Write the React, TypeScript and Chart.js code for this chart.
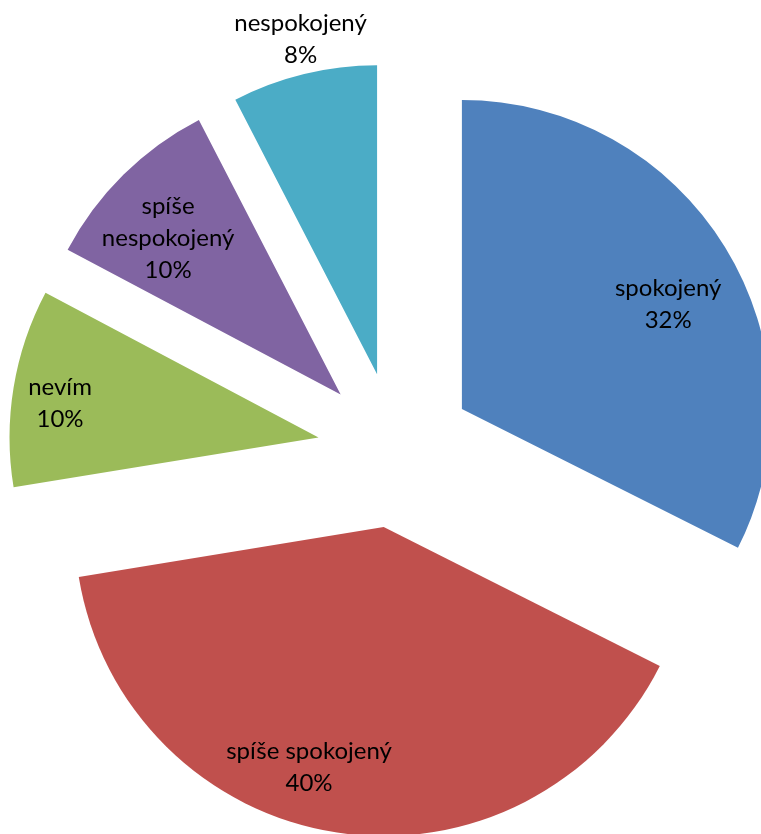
import React, { useEffect, useRef } from "react";
import { Chart, registerables } from "chart.js";

Chart.register(...registerables);

// ---- data ----
const CATEGORIES = ["spokojený", "spíše spokojený", "nevím", "spíše nespokojený", "nespokojený"];
const LABEL_LINES = [["spokojený"], ["spíše spokojený"], ["nevím"], ["spíše", "nespokojený"], ["nespokojený"]];
const COUNTS = [47, 58, 15, 14, 11];
const PERCENT_LABELS = ["32%", "40%", "10%", "10%", "8%"];
const COLORS = ["#4F81BD", "#C0504D", "#9BBB59", "#8064A2", "#4BACC6"];

// ---- label placement (fraction of radius, angular nudge in degrees) ----
const LABEL_RADIUS_FRACTION = [0.749, 0.813, 0.844, 0.754, 1.113];
const LABEL_ANGLE_NUDGE = [4.7, 8.6, -1.7, -3.1, 0.8];

const EXPLODE = 78;
const RADIUS = 309;
const FONT = "24px Lato";
const LINE_HEIGHT = 32;

const explodePlugin = {
  id: "explodeSlices",
  beforeDatasetDraw(chart: any, args: any) {
    const ctx = chart.ctx;
    args.meta.data.forEach((arc: any) => {
      const mid = (arc.startAngle + arc.endAngle) / 2;
      ctx.save();
      ctx.translate(Math.cos(mid) * EXPLODE, Math.sin(mid) * EXPLODE);
      arc.draw(ctx);
      ctx.restore();
    });
    return false;
  },
  afterDatasetsDraw(chart: any) {
    const ctx = chart.ctx;
    const meta = chart.getDatasetMeta(0);
    ctx.save();
    ctx.font = FONT;
    ctx.fillStyle = "#000000";
    ctx.textAlign = "center";
    ctx.textBaseline = "middle";
    meta.data.forEach((arc: any, i: number) => {
      const mid = (arc.startAngle + arc.endAngle) / 2;
      const a = mid + (LABEL_ANGLE_NUDGE[i] * Math.PI) / 180;
      const r = arc.outerRadius * LABEL_RADIUS_FRACTION[i];
      const cx = arc.x + Math.cos(mid) * EXPLODE + Math.cos(a) * r;
      const cy = arc.y + Math.sin(mid) * EXPLODE + Math.sin(a) * r;
      const lines = [...LABEL_LINES[i], PERCENT_LABELS[i]];
      const top = cy - ((lines.length - 1) * LINE_HEIGHT) / 2;
      lines.forEach((t, j) => ctx.fillText(t, cx, top + j * LINE_HEIGHT));
    });
    ctx.restore();
  },
};

export default function App() {
  const ref = useRef<HTMLCanvasElement>(null);
  useEffect(() => {
    if (!ref.current) return;
    const chart = new Chart(ref.current, {
      type: "pie",
      data: {
        labels: CATEGORIES,
        datasets: [
          {
            data: COUNTS,
            backgroundColor: COLORS,
            borderWidth: 0,
          },
        ],
      },
      options: {
        responsive: false,
        animation: false,
        radius: RADIUS,
        layout: { padding: { left: 30, right: 0, top: 66, bottom: 0 } },
        plugins: { legend: { display: false }, tooltip: { enabled: false } },
        events: [],
      } as any,
      plugins: [explodePlugin],
    });
    return () => chart.destroy();
  }, []);
  return (
    <div style={{ position: "fixed", left: 0, top: 0, width: 761, height: 834, background: "#fff" }}>
      <canvas ref={ref} width={761} height={834} style={{ width: 761, height: 834, display: "block" }} />
    </div>
  );
}
